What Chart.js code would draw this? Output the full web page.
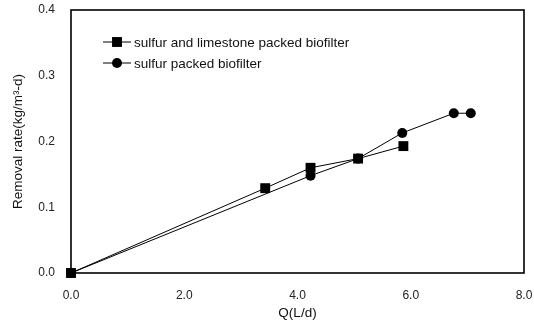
<!DOCTYPE html>
<html>
<head>
<meta charset="utf-8">
<script src="https://cdn.jsdelivr.net/npm/chart.js@4"></script>
<style>
html,body{margin:0;padding:0;background:#fff;}
#wrap{width:534px;height:323px;}
</style>
</head>
<body>
<div id="wrap"><canvas id="chart1"></canvas></div>
<script>

/* DATA */

const seriesNames = [
"sulfur and limestone packed biofilter",
"sulfur packed biofilter"
];

const qLimestone = [0, 3.43, 4.23, 5.07, 5.87];
const rateLimestone = [0, 0.129, 0.160, 0.174, 0.193];

const qSulfur = [0, 4.23, 5.07, 5.85, 6.76, 7.06];
const rateSulfur = [0, 0.148, 0.174, 0.213, 0.243, 0.243];

const xTicks = [0, 2, 4, 6, 8];
const yTicks = [0, 0.1, 0.2, 0.3, 0.4];

const FONT = "'Liberation Sans', Arial, sans-serif";

function toPoints(xs, ys){
    return xs.map((x, i) => ({ x: x, y: ys[i] }));
}

function noEdgePad(s){
    s.paddingTop = 0;
    s.paddingBottom = 0;
    s.paddingLeft = 0;
    s.paddingRight = 0;
}

/* BOX + LEGEND */

const boxAndLegend = {
    id: "boxAndLegend",
    afterDraw(chart){
        const ctx = chart.ctx;
        const a = chart.chartArea;

        ctx.save();
        ctx.strokeStyle = "#000";
        ctx.lineWidth = 1.6;
        ctx.strokeRect(a.left, a.top, a.right - a.left, a.bottom - a.top);

        const rows = [
            { y: 42, style: "rect", r: 7 },
            { y: 63, style: "circle", r: 5 }
        ];

        ctx.font = "13.5px " + FONT;
        ctx.textBaseline = "middle";

        rows.forEach((row, i) => {
            ctx.beginPath();
            ctx.lineWidth = 1;
            ctx.moveTo(103, row.y);
            ctx.lineTo(131, row.y);
            ctx.stroke();
            ctx.fillStyle = "#000";
            Chart.helpers.drawPoint(ctx, {
                pointStyle: row.style,
                radius: row.r,
                borderWidth: 0
            }, 117, row.y);
            ctx.fillStyle = "#111";
            ctx.fillText(seriesNames[i], 134, row.y + 1);
        });

        ctx.restore();
    }
};

/* CHART */

new Chart(document.getElementById("chart1"), {
    type: "line",
    data: {
        datasets: [
            {
                label: seriesNames[0],
                data: toPoints(qLimestone, rateLimestone),
                borderColor: "#000",
                backgroundColor: "#000",
                borderWidth: 1,
                pointStyle: "rect",
                pointRadius: 7,
                pointBorderWidth: 0,
                clip: false
            },
            {
                label: seriesNames[1],
                data: toPoints(qSulfur, rateSulfur),
                borderColor: "#000",
                backgroundColor: "#000",
                borderWidth: 1,
                pointStyle: "circle",
                pointRadius: 5,
                pointBorderWidth: 0,
                clip: false
            }
        ]
    },
    options: {
        responsive: true,
        maintainAspectRatio: false,
        animation: false,
        layout: {
            padding: { top: 10, right: 10, left: 0, bottom: 0 }
        },
        plugins: {
            legend: { display: false },
            tooltip: { enabled: false }
        },
        scales: {
            x: {
                type: "linear",
                min: 0,
                max: 8,
                afterFit: s => { s.height = 50; noEdgePad(s); },
                afterBuildTicks: s => { s.ticks = xTicks.map(v => ({ value: v })); },
                grid: { display: false, drawTicks: false },
                border: { display: false },
                ticks: {
                    padding: 15,
                    color: "#222",
                    font: { family: FONT, size: 12 },
                    callback: v => v.toFixed(1)
                },
                title: {
                    display: true,
                    text: "Q(L/d)",
                    color: "#111",
                    padding: { top: 0, bottom: 2 },
                    font: { family: FONT, size: 13.5 }
                }
            },
            y: {
                min: 0,
                max: 0.4,
                afterFit: s => { s.width = 71; noEdgePad(s); },
                afterBuildTicks: s => { s.ticks = yTicks.map(v => ({ value: v })); },
                grid: { display: false, drawTicks: false },
                border: { display: false },
                ticks: {
                    padding: 16,
                    color: "#222",
                    font: { family: FONT, size: 12 },
                    callback: v => v.toFixed(1)
                },
                title: {
                    display: true,
                    text: "Removal rate(kg/m³-d)",
                    color: "#111",
                    padding: { top: 10, bottom: 0 },
                    font: { family: FONT, size: 13.5 }
                }
            }
        }
    },
    plugins: [boxAndLegend]
});

</script>
</body>
</html>
